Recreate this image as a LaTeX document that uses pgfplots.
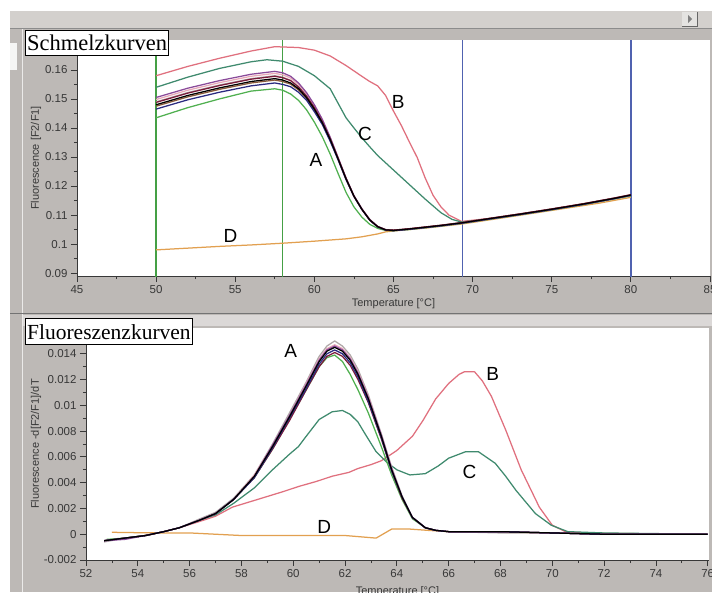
\documentclass[border=0pt]{standalone}
\usepackage{fontspec}
\setmainfont{Liberation Serif}
\newfontfamily\arial{Liberation Sans}
\usepackage{pgfplots}
\pgfplotsset{compat=1.18}
\definecolor{bg}{HTML}{BDB9B6}
\definecolor{bglight}{HTML}{D3D0CD}
\definecolor{tickc}{HTML}{383838}
\definecolor{curB}{HTML}{E0707E}
\definecolor{curC}{HTML}{3F8A6E}
\definecolor{curD}{HTML}{E2A050}
\definecolor{cgreen}{HTML}{45A045}
\definecolor{cblue}{HTML}{5062B0}
\definecolor{cpurple}{HTML}{8A4A9A}
\definecolor{cpink}{HTML}{E8A8B8}
\definecolor{cdarkred}{HTML}{7A1A3A}
\definecolor{cnavy}{HTML}{2A2A80}
\definecolor{cgray}{HTML}{B0A8A8}
\definecolor{cbrown}{HTML}{8A5A3A}
\definecolor{clgreen}{HTML}{50B050}
\pgfplotsset{panel/.style={scale only axis, axis x line*=bottom, axis y line*=left,
  axis background/.style={fill=white},
  axis line style={-, draw=tickc, line width=0.8pt},
  tick style={draw=tickc, line width=0.8pt},
  tick align=outside, major tick length=6pt, minor tick length=3pt,
  ticklabel style={font=\arial\fontsize{11.5}{13}\selectfont, text=tickc},
  label style={font=\arial\fontsize{11}{13}\selectfont, text=tickc},
  /pgf/number format/assume math mode=true,
  scaled x ticks=false, scaled y ticks=false,
  every axis plot/.append style={line width=1.25pt, line join=round},
  clip=true}}
\begin{document}
\begin{tikzpicture}
\useasboundingbox (0,0) rectangle (712pt,-592pt);
\clip (0,0) rectangle (712pt,-592pt);
\fill[bg] (0,0) rectangle (712pt,-592pt);
\fill[white] (0,0) rectangle (712pt,-11pt);
\fill[white] (0,0) rectangle (10pt,-592pt);
\fill[bglight] (10pt,-11pt) rectangle (712pt,-28pt);
\draw[black!45, line width=1pt] (10pt,-28.5pt) -- (712pt,-28.5pt);
\fill[bglight!60!white] (682pt,-12pt) rectangle (697pt,-26pt);
\draw[black!60, line width=0.8pt] (682pt,-26pt) -- (697pt,-26pt) -- (697pt,-12pt);
\fill[black!50] (688pt,-15pt) -- (692pt,-19pt) -- (688pt,-23pt) -- cycle;
\draw[white!70!bg, line width=1.5pt] (22.5pt,-29pt) -- (22.5pt,-592pt);
\fill[white!85!bg] (10pt,-43pt) rectangle (17pt,-70pt);
\draw[black!55, line width=1pt] (10pt,-313.5pt) -- (712pt,-313.5pt);
\fill[white!45!bg] (23pt,-315pt) rectangle (712pt,-326pt);

% ---------------- top panel ----------------
\begin{axis}[panel, at={(77pt,-276pt)}, anchor=south west, width=633pt, height=236pt,
  xmin=45, xmax=85, ymin=0.089, ymax=0.1703,
  xtick={45,50,55,60,65,70,75,80,85}, minor x tick num=1,
  ytick={0.09,0.1,0.11,0.12,0.13,0.14,0.15,0.16},
  yticklabels={0.09,0.1,0.11,0.12,0.13,0.14,0.15,0.16}, minor y tick num=1,
  xlabel={Temperature [°C]}, ylabel={Fluorescence [F2/F1]},
  xlabel style={at={(axis description cs:0.5,-0.1186)}, anchor=center},
  ylabel style={at={(axis description cs:-0.0648,0.5)}, anchor=center}]
\addplot[cgreen, line width=1.5pt] coordinates {(50,0.085) (50,0.175)};
\addplot[cgreen, line width=1.5pt] coordinates {(58,0.085) (58,0.175)};
\addplot[cblue, line width=1.6pt] coordinates {(69.35,0.085) (69.35,0.175)};
\addplot[cblue, line width=1.6pt] coordinates {(80,0.085) (80,0.175)};
% D
\addplot[curD] coordinates {(50,0.0980) (52,0.0986) (54,0.0992) (56,0.0997) (58,0.1003) (60,0.1010) (62,0.1018) (63,0.1025) (64,0.1035) (64.5,0.1042) (65,0.1045) (67,0.1055) (69.3,0.1069) (72,0.1091) (75,0.1116) (78,0.1141) (80,0.1161)};
% B
\addplot[curB] coordinates {(50,0.1580) (52,0.1612) (54,0.1640) (56,0.1665) (57.5,0.1680) (59,0.1677) (60,0.1668) (61,0.1648) (62,0.1615) (63,0.1578) (63.5,0.1560) (64,0.1545) (64.5,0.1512) (65,0.1458) (65.5,0.1408) (66,0.1352) (66.5,0.1298) (67,0.1228) (67.5,0.1168) (68,0.1128) (68.5,0.1100) (69.3,0.1078) (71,0.1088) (73,0.1104) (75,0.1121) (77,0.1139) (79,0.1159) (80,0.1170)};
% C
\addplot[curC] coordinates {(50,0.1540) (52,0.1575) (54,0.1605) (56,0.1628) (57,0.1635) (58,0.1630) (59,0.1612) (60,0.1580) (61,0.1535) (61.5,0.1485) (62,0.1435) (62.5,0.1400) (63,0.1366) (63.5,0.1335) (64,0.1305) (65,0.1255) (66,0.1205) (67,0.1155) (68,0.1108) (68.7,0.1085) (69.3,0.1076) (71,0.1086) (73,0.1102) (75,0.1119) (77,0.1137) (79,0.1157) (80,0.1168)};
% A group
\addplot[clgreen] coordinates {(50,0.1435) (52,0.1470) (54,0.1500) (56,0.1527) (57.5,0.1535) (58,0.1530) (58.5,0.1517) (59,0.1495) (59.5,0.1463) (60,0.1420) (60.5,0.1370) (61,0.1310) (61.5,0.1243) (62,0.1178) (62.5,0.1128) (63,0.1093) (63.5,0.1068) (64,0.1054) (64.5,0.1047) (65,0.1046) (66,0.1050) (67,0.1056) (68,0.1062) (69.3,0.1071) (71,0.1085) (73,0.1101) (75,0.1118) (77,0.1136) (79,0.1156) (80,0.1166)};
\addplot[cgray] coordinates {(50,0.1490) (52,0.1522) (54,0.1548) (56,0.1570) (57.5,0.1580) (58,0.1575) (58.5,0.1564) (59,0.1543) (59.5,0.1511) (60,0.1471) (60.5,0.1422) (61,0.1364) (61.5,0.1296) (62,0.1226) (62.5,0.1165) (63,0.1120) (63.5,0.1083) (64,0.1060) (64.5,0.1049) (65,0.1048) (66,0.1053) (67,0.1059) (68,0.1065) (69.3,0.1074) (71,0.1088) (73,0.1104) (75,0.1121) (77,0.1139) (79,0.1159) (80,0.1170)};
\addplot[cpink] coordinates {(50,0.1498) (52,0.1530) (54,0.1556) (56,0.1578) (57.5,0.1588) (58,0.1583) (58.5,0.1572) (59,0.1550) (59.5,0.1518) (60,0.1476) (60.5,0.1427) (61,0.1366) (61.5,0.1297) (62,0.1227) (62.5,0.1166) (63,0.1121) (63.5,0.1084) (64,0.1061) (64.5,0.1050) (65,0.1048) (66,0.1052) (67,0.1058) (68,0.1064) (69.3,0.1073) (71,0.1087) (73,0.1103) (75,0.1120) (77,0.1138) (79,0.1158) (80,0.1169)};
\addplot[cpurple] coordinates {(50,0.1505) (52,0.1537) (54,0.1563) (56,0.1585) (57.5,0.1595) (58,0.1590) (58.5,0.1578) (59,0.1555) (59.5,0.1522) (60,0.1480) (60.5,0.1430) (61,0.1368) (61.5,0.1298) (62,0.1228) (62.5,0.1167) (63,0.1122) (63.5,0.1085) (64,0.1061) (64.5,0.1050) (65,0.1047) (66,0.1051) (67,0.1057) (68,0.1063) (69.3,0.1072) (71,0.1086) (73,0.1102) (75,0.1119) (77,0.1137) (79,0.1157) (80,0.1168)};
\addplot[cbrown] coordinates {(50,0.1475) (52,0.1507) (54,0.1533) (56,0.1555) (57.5,0.1565) (58,0.1560) (58.5,0.1551) (59,0.1531) (59.5,0.1502) (60,0.1462) (60.5,0.1416) (61,0.1358) (61.5,0.1292) (62,0.1224) (62.5,0.1165) (63,0.1120) (63.5,0.1083) (64,0.1060) (64.5,0.1049) (65,0.1047) (66,0.1052) (67,0.1058) (68,0.1064) (69.3,0.1073) (71,0.1087) (73,0.1103) (75,0.1120) (77,0.1138) (79,0.1158) (80,0.1169)};
\addplot[cnavy] coordinates {(50,0.1465) (52,0.1497) (54,0.1523) (56,0.1545) (57.5,0.1555) (58,0.1550) (58.5,0.1542) (59,0.1523) (59.5,0.1496) (60,0.1456) (60.5,0.1412) (61,0.1354) (61.5,0.1290) (62,0.1222) (62.5,0.1164) (63,0.1119) (63.5,0.1082) (64,0.1059) (64.5,0.1048) (65,0.1046) (66,0.1051) (67,0.1057) (68,0.1063) (69.3,0.1072) (71,0.1086) (73,0.1102) (75,0.1119) (77,0.1137) (79,0.1157) (80,0.1168)};
\addplot[cdarkred] coordinates {(50,0.1488) (52,0.1520) (54,0.1546) (56,0.1568) (57.5,0.1578) (58,0.1573) (58.5,0.1563) (59,0.1541) (59.5,0.1510) (60,0.1470) (60.5,0.1421) (61,0.1363) (61.5,0.1295) (62,0.1226) (62.5,0.1165) (63,0.1120) (63.5,0.1083) (64,0.1060) (64.5,0.1049) (65,0.1048) (66,0.1053) (67,0.1059) (68,0.1065) (69.3,0.1074) (71,0.1088) (73,0.1104) (75,0.1121) (77,0.1139) (79,0.1159) (80,0.1170)};
\addplot[black] coordinates {(50,0.1480) (52,0.1512) (54,0.1538) (56,0.1560) (57.5,0.1570) (58,0.1565) (58.5,0.1555) (59,0.1535) (59.5,0.1505) (60,0.1465) (60.5,0.1418) (61,0.1360) (61.5,0.1293) (62,0.1225) (62.5,0.1165) (63,0.1120) (63.5,0.1083) (64,0.1060) (64.5,0.1049) (65,0.1047) (66,0.1052) (67,0.1058) (68,0.1064) (69.3,0.1073) (71,0.1087) (73,0.1103) (75,0.1120) (77,0.1138) (79,0.1158) (80,0.1169)};
\node[font=\arial\fontsize{19}{19}\selectfont] at (axis cs:60.1,0.1290) {A};
\node[font=\arial\fontsize{19}{19}\selectfont] at (axis cs:65.3,0.1488) {B};
\node[font=\arial\fontsize{19}{19}\selectfont] at (axis cs:63.2,0.1378) {C};
\node[font=\arial\fontsize{19}{19}\selectfont] at (axis cs:54.7,0.1028) {D};
\end{axis}

% ---------------- bottom panel ----------------
\begin{axis}[panel, at={(86pt,-560pt)}, anchor=south west, width=623pt, height=232pt,
  xmin=52, xmax=76.05, ymin=-0.002, ymax=0.016,
  xtick={52,54,56,58,60,62,64,66,68,70,72,74,76}, minor x tick num=1,
  ytick={-0.002,0,0.002,0.004,0.006,0.008,0.01,0.012,0.014},
  yticklabels={-0.002,0,0.002,0.004,0.006,0.008,0.01,0.012,0.014}, minor y tick num=1,
  xlabel={Temperature [°C]}, ylabel={Fluorescence -d[F2/F1]/dT},
  xlabel style={at={(axis description cs:0.5,-0.138)}, anchor=center},
  ylabel style={at={(axis description cs:-0.0803,0.5)}, anchor=center}]
% D
\addplot[curD] coordinates {(53,0.00015) (54,0.00012) (55,0.0001) (56,0.0001) (57,0.0000) (58,-0.0001) (60,-0.0001) (62,-0.0001) (62.6,-0.0002) (63.2,-0.0003) (63.8,0.0004) (64.5,0.0004) (65.2,0.0003) (66,0.0002) (70,0.0001) (76,0.0000)};
% B
\addplot[curB] coordinates {(52.7,-0.0005) (53.5,-0.0003) (54.3,-0.0001) (55,0.0002) (55.6,0.0005) (56.4,0.0010) (57,0.0014) (57.65,0.0021) (58.3,0.0025) (58.95,0.0029) (59.6,0.0033) (60.2,0.0037) (60.9,0.0041) (61.5,0.0045) (62.15,0.0048) (62.5,0.0051) (63,0.0054) (63.4,0.0057) (64,0.0065) (64.6,0.0076) (65,0.0088) (65.5,0.0105) (66,0.0117) (66.4,0.0124) (66.6,0.0126) (67.0,0.0126) (67.3,0.0119) (67.65,0.0107) (68.2,0.0081) (68.8,0.0050) (69.5,0.0021) (70,0.0007) (70.5,0.0002) (72,0.0000) (76,0.0000)};
% C
\addplot[curC] coordinates {(52.7,-0.0005) (53.5,-0.0003) (54.3,-0.0001) (55,0.0002) (55.6,0.0005) (56.4,0.0011) (57,0.0015) (57.7,0.0024) (58.5,0.0036) (59.2,0.0050) (59.85,0.0062) (60.2,0.0068) (60.5,0.0076) (61,0.0089) (61.5,0.0095) (61.9,0.0096) (62.2,0.0093) (62.5,0.0087) (62.8,0.0077) (63.2,0.0064) (63.6,0.0056) (64,0.0050) (64.5,0.0046) (65.1,0.0047) (65.6,0.0053) (66,0.0059) (66.65,0.0064) (67.15,0.0064) (67.8,0.0055) (68.2,0.0045) (68.6,0.0034) (69.35,0.0016) (69.96,0.0007) (70.6,0.0002) (72,0.0001) (76,0.0000)};
% A group
\addplot[clgreen] coordinates {(52.8,-0.0004) (53.5,-0.0003) (54.3,-0.0001) (55,0.0002) (55.6,0.0005) (56.4,0.0011) (57,0.0016) (57.7,0.0027) (58.5,0.0044) (59.2,0.0066) (59.85,0.0089) (60.5,0.0112) (61.0,0.0130) (61.3,0.0137) (61.6,0.0139) (61.9,0.0134) (62.2,0.0124) (62.5,0.0112) (62.9,0.0094) (63.4,0.0068) (63.8,0.0046) (64.2,0.0027) (64.6,0.0012) (65.1,0.0005) (65.5,0.0003) (66,0.0002) (68,0.0002) (70,0.0001) (72,0.0000) (76,0.0000)};
\addplot[cgray] coordinates {(52.7,-0.0006) (53.5,-0.0003) (54.3,-0.0001) (55,0.0002) (55.6,0.0005) (56.4,0.0012) (57,0.0017) (57.7,0.0028) (58.5,0.0046) (59.2,0.0070) (59.85,0.0094) (60.5,0.0118) (61.0,0.0138) (61.3,0.0146) (61.6,0.0150) (61.9,0.0146) (62.2,0.0139) (62.5,0.0128) (62.9,0.0108) (63.4,0.0078) (63.8,0.0052) (64.2,0.0030) (64.6,0.0013) (65.1,0.0005) (65.5,0.0003) (66,0.0002) (68,0.0001) (70,0.0001) (72,0.0000) (76,0.0000)};
\addplot[cpink] coordinates {(52.7,-0.0005) (53.5,-0.0003) (54.3,-0.0001) (55,0.0002) (55.6,0.0005) (56.4,0.0011) (57,0.0016) (57.7,0.0027) (58.5,0.0046) (59.2,0.0069) (59.85,0.0092) (60.5,0.0117) (61.0,0.0136) (61.3,0.0144) (61.6,0.0147) (61.9,0.0144) (62.2,0.0137) (62.5,0.0126) (62.9,0.0107) (63.4,0.0077) (63.8,0.0051) (64.2,0.0029) (64.6,0.0013) (65.1,0.0005) (65.5,0.0003) (66,0.0002) (68,0.0002) (70,0.0001) (72,0.0000) (76,0.0000)};
\addplot[cpurple] coordinates {(52.7,-0.0005) (53.5,-0.0004) (54.3,-0.0001) (55,0.0002) (55.6,0.0005) (56.4,0.0011) (57,0.0016) (57.7,0.0027) (58.5,0.0045) (59.2,0.0069) (59.85,0.0092) (60.5,0.0116) (61.0,0.0135) (61.3,0.0143) (61.6,0.0146) (61.9,0.0143) (62.2,0.0136) (62.5,0.0125) (62.9,0.0106) (63.4,0.0077) (63.8,0.0051) (64.2,0.0029) (64.6,0.0013) (65.1,0.0005) (65.5,0.0003) (66,0.0002) (68,0.0002) (70,0.0001) (72,0.0000) (76,0.0000)};
\addplot[cdarkred] coordinates {(52.7,-0.0005) (53.5,-0.0003) (54.3,-0.0001) (55,0.0002) (55.6,0.0005) (56.4,0.0011) (57,0.0016) (57.7,0.0027) (58.5,0.0044) (59.2,0.0066) (59.85,0.0088) (60.5,0.0112) (61.0,0.0130) (61.3,0.0138) (61.6,0.0141) (61.9,0.0138) (62.2,0.0131) (62.5,0.0120) (62.9,0.0102) (63.4,0.0074) (63.8,0.0049) (64.2,0.0028) (64.6,0.0013) (65.1,0.0005) (65.5,0.0003) (66,0.0002) (68,0.0002) (70,0.0001) (72,0.0000) (76,0.0000)};
\addplot[cnavy] coordinates {(52.7,-0.0005) (53.5,-0.0003) (54.3,-0.0001) (55,0.0002) (55.6,0.0005) (56.4,0.0011) (57,0.0016) (57.7,0.0027) (58.5,0.0044) (59.2,0.0067) (59.85,0.0090) (60.5,0.0113) (61.0,0.0132) (61.3,0.0140) (61.6,0.0143) (61.9,0.0140) (62.2,0.0133) (62.5,0.0122) (62.9,0.0103) (63.4,0.0075) (63.8,0.0049) (64.2,0.0029) (64.6,0.0013) (65.1,0.0005) (65.5,0.0003) (66,0.0002) (68,0.0002) (70,0.0001) (72,0.0000) (76,0.0000)};
\addplot[black] coordinates {(52.7,-0.0005) (53.5,-0.0003) (54.3,-0.0001) (55,0.0002) (55.6,0.0005) (56.4,0.0011) (57,0.0016) (57.7,0.0027) (58.5,0.0045) (59.2,0.0068) (59.85,0.0091) (60.5,0.0115) (61.0,0.0134) (61.3,0.0142) (61.6,0.0145) (61.9,0.0142) (62.2,0.0135) (62.5,0.0124) (62.9,0.0105) (63.4,0.0076) (63.8,0.0050) (64.2,0.0029) (64.6,0.0013) (65.1,0.0005) (65.5,0.0003) (66,0.0002) (68,0.0002) (70,0.0001) (72,0.0000) (76,0.0000)};
\node[font=\arial\fontsize{19}{19}\selectfont] at (axis cs:59.9,0.0142) {A};
\node[font=\arial\fontsize{19}{19}\selectfont] at (axis cs:67.7,0.0124) {B};
\node[font=\arial\fontsize{19}{19}\selectfont] at (axis cs:66.8,0.0048) {C};
\node[font=\arial\fontsize{19}{19}\selectfont] at (axis cs:61.2,0.00055) {D};
\end{axis}

% title boxes
\node[draw=black, line width=1.3pt, fill=white, anchor=north west, inner xsep=1.5pt, minimum height=25pt, font=\fontsize{22.5}{23}\selectfont] at (25pt,-30pt) {Schmelzkurven};
\node[draw=black, line width=1.3pt, fill=white, anchor=north west, inner xsep=1.5pt, minimum height=26pt, font=\fontsize{21.5}{22}\selectfont] at (25pt,-318pt) {Fluoreszenzkurven};
\end{tikzpicture}
\end{document}
